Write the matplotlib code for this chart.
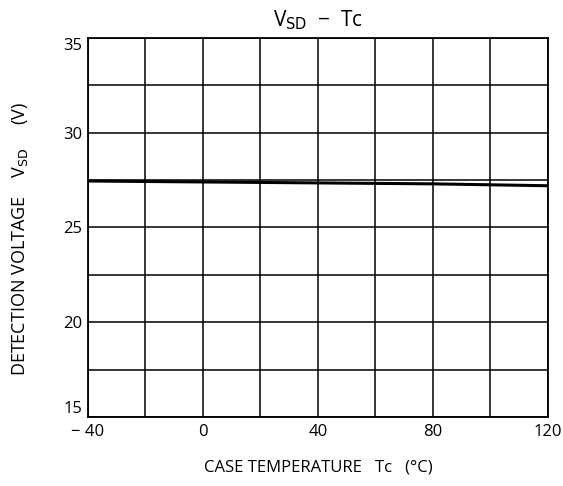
import matplotlib
matplotlib.use("Agg")
import matplotlib.pyplot as plt
import numpy as np

temps = [-40, 0, 40, 80, 120]
vsd = [27.45, 27.4, 27.35, 27.3, 27.2]
xtick_vals = [-40, 0, 40, 80, 120]
xtick_labels = ["\u2212 40", "0", "40", "80", "120"]
ytick_vals = [15, 20, 25, 30, 35]
ytick_labels = ["15", "20", "25", "30", "35"]

plt.rcParams['font.family'] = ['Open Sans', 'DejaVu Sans']
fig = plt.figure(figsize=(5.63, 4.86), dpi=100)
ax = fig.add_axes([0.156, 0.142, 0.817, 0.780])

ax.plot(temps, vsd, color='black', lw=2.2)
ax.set_xlim(-40, 120)
ax.set_ylim(15, 35)
ax.set_xticks(np.arange(-40, 121, 20), minor=True)
ax.set_yticks(np.arange(15, 35.1, 2.5), minor=True)
ax.set_xticks(xtick_vals)
ax.set_xticklabels(xtick_labels, fontsize=12)
ax.set_yticks(ytick_vals)
ax.set_yticklabels(ytick_labels, fontsize=12)
ax.grid(True, which='both', color='black', lw=1.1)
ax.tick_params(which='both', length=0)
ax.tick_params(axis='x', pad=5)
ax.tick_params(axis='y', pad=4)
ylabs = ax.get_yticklabels()
ylabs[0].set_va('bottom')
ylabs[-1].set_va('top')
for s in ax.spines.values():
    s.set_linewidth(1.3)

ax.set_xlabel("CASE TEMPERATURE   Tc   (\u00b0C)", fontsize=12, labelpad=14)
ax.set_ylabel("DETECTION VOLTAGE    V$_{\\rm SD}$     (V)", fontsize=13)
ax.yaxis.set_label_coords(-0.125, 0.47)
ax.set_title("V$_{\\rm SD}$  \u2212  Tc", fontsize=15, pad=8)

fig.savefig("out.png", dpi=100)
